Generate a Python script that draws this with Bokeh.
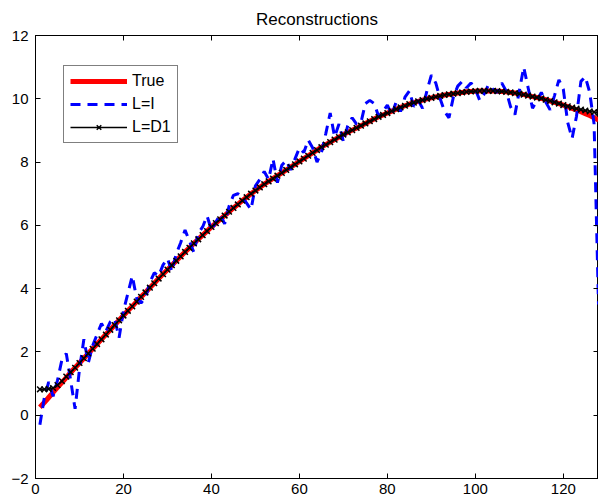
from bokeh.plotting import figure
from bokeh.models import (LinearAxis, FixedTicker, Range1d, Legend, LegendItem)
from bokeh.embed import file_html
from bokeh.resources import INLINE

x_vals = list(range(1, 129))

true_vals = [
    0.25, 0.40, 0.56, 0.72, 0.88, 1.03, 1.19, 1.35, 1.50, 1.65,
    1.80, 1.95, 2.10, 2.25, 2.40, 2.55, 2.70, 2.85, 3.00, 3.15,
    3.30, 3.44, 3.59, 3.74, 3.88, 4.03, 4.17, 4.32, 4.46, 4.60,
    4.74, 4.88, 5.02, 5.16, 5.29, 5.43, 5.56, 5.69, 5.82, 5.95,
    6.07, 6.19, 6.31, 6.43, 6.55, 6.66, 6.78, 6.89, 7.00, 7.10,
    7.20, 7.30, 7.39, 7.48, 7.57, 7.66, 7.75, 7.84, 7.93, 8.02,
    8.11, 8.20, 8.29, 8.38, 8.47, 8.55, 8.63, 8.71, 8.79, 8.87,
    8.94, 9.01, 9.08, 9.15, 9.22, 9.29, 9.36, 9.43, 9.49, 9.55,
    9.61, 9.67, 9.73, 9.78, 9.83, 9.88, 9.92, 9.96, 10.00, 10.03,
    10.06, 10.09, 10.12, 10.14, 10.16, 10.18, 10.20, 10.22, 10.23, 10.24,
    10.25, 10.25, 10.25, 10.25, 10.24, 10.23, 10.22, 10.20, 10.18, 10.16,
    10.13, 10.10, 10.07, 10.04, 10.01, 9.97, 9.93, 9.89, 9.85, 9.80,
    9.75, 9.70, 9.65, 9.59, 9.53, 9.47, 9.40, 9.33,
]

li_vals = [
    -0.30, 0.55, 1.05, 0.60, 1.10, 1.75, 1.95, 1.10, 0.20, 1.45,
    2.40, 1.65, 2.20, 2.55, 2.90, 2.65, 2.95, 3.05, 2.45, 3.30,
    3.85, 4.40, 3.70, 3.55, 3.70, 4.20, 4.50, 4.40, 4.75, 4.95,
    4.55, 5.10, 5.45, 5.85, 5.50, 5.15, 5.75, 5.95, 6.30, 5.85,
    6.10, 6.35, 6.05, 6.60, 6.95, 7.00, 6.90, 6.70, 6.50, 7.25,
    7.45, 7.70, 7.45, 8.10, 7.35, 7.90, 8.05, 7.75, 8.10, 8.45,
    8.30, 8.70, 8.45, 8.00, 8.30, 8.90, 9.55, 8.80, 9.20, 8.65,
    9.15, 9.40, 9.20, 9.25, 9.85, 9.95, 9.85, 9.45, 9.60, 9.80,
    9.50, 9.90, 9.60, 10.05, 10.25, 9.75, 9.95, 9.70, 10.25, 10.75,
    10.50, 10.00, 9.60, 9.40, 10.05, 10.40, 10.55, 10.35, 10.50, 10.30,
    9.95, 10.15, 10.45, 10.30, 10.20, 10.50, 10.25, 9.75, 9.50, 10.25,
    11.00, 10.35, 9.70, 9.95, 10.20, 9.90, 9.65, 10.10, 10.60, 10.30,
    9.25, 8.75, 9.45, 10.55, 10.70, 10.20, 9.20, 3.50,
]

ld1_vals = [
    0.82, 0.82, 0.83, 0.86, 0.95, 1.08, 1.22, 1.36, 1.50, 1.65,
    1.80, 1.95, 2.10, 2.25, 2.40, 2.55, 2.70, 2.85, 3.00, 3.15,
    3.30, 3.44, 3.59, 3.74, 3.88, 4.03, 4.17, 4.32, 4.46, 4.60,
    4.74, 4.88, 5.02, 5.16, 5.29, 5.43, 5.56, 5.69, 5.82, 5.95,
    6.07, 6.19, 6.31, 6.43, 6.55, 6.66, 6.78, 6.89, 7.00, 7.10,
    7.20, 7.30, 7.39, 7.48, 7.57, 7.66, 7.75, 7.84, 7.93, 8.02,
    8.11, 8.20, 8.29, 8.38, 8.47, 8.55, 8.63, 8.71, 8.79, 8.87,
    8.94, 9.01, 9.08, 9.15, 9.22, 9.29, 9.36, 9.43, 9.49, 9.55,
    9.61, 9.67, 9.73, 9.78, 9.83, 9.88, 9.92, 9.96, 10.00, 10.03,
    10.06, 10.09, 10.12, 10.14, 10.16, 10.18, 10.20, 10.22, 10.23, 10.24,
    10.25, 10.25, 10.25, 10.25, 10.24, 10.23, 10.22, 10.20, 10.18, 10.16,
    10.13, 10.10, 10.07, 10.04, 10.01, 9.97, 9.93, 9.89, 9.85, 9.80,
    9.76, 9.72, 9.69, 9.66, 9.63, 9.60, 9.58, 9.56,
]

x_ticks = [0, 20, 40, 60, 80, 100, 120]
y_ticks = [-2, 0, 2, 4, 6, 8, 10, 12]
series_labels = ["True", "L=I", "L=D1"]
title_text = "Reconstructions"

FONT = "Liberation Sans"

p = figure(width=598, height=500, output_backend="svg", toolbar_location=None,
           x_range=Range1d(0, 128), y_range=Range1d(-2, 12),
           x_axis_type=None, y_axis_type=None,
           min_border_left=35, min_border_right=0, min_border_top=33,
           min_border_bottom=22)
p.background_fill_color = "white"
p.border_fill_color = "white"
p.outline_line_color = "black"
p.outline_line_width = 1
p.xgrid.visible = False
p.ygrid.visible = False

p.title.text = title_text
p.title.align = "center"
p.title.text_font = FONT
p.title.text_font_size = "17px"
p.title.text_font_style = "normal"
p.title.text_color = "black"
p.title.offset = 0
p.title.standoff = 14


def style_axis(ax, labels=True):
    ax.axis_line_color = "black"
    ax.major_tick_line_color = "black"
    ax.major_tick_in = 5
    ax.major_tick_out = 0
    ax.minor_tick_line_color = None
    if labels:
        ax.major_label_text_font = FONT
        ax.major_label_text_font_size = "15px"
        ax.major_label_text_color = "black"
    else:
        ax.major_label_text_font_size = "1px"
        ax.major_label_standoff = 0


xb = LinearAxis(ticker=FixedTicker(ticks=x_ticks))
style_axis(xb)
xb.major_label_standoff = 5
p.add_layout(xb, "below")

yl = LinearAxis(ticker=FixedTicker(ticks=y_ticks),
                major_label_overrides={-2: "\u22122"})
style_axis(yl)
yl.major_label_standoff = 7
p.add_layout(yl, "left")

# box ticks on top and right, without labels
xt = LinearAxis(ticker=FixedTicker(ticks=x_ticks),
                major_label_overrides={t: "" for t in x_ticks})
style_axis(xt, labels=False)
p.add_layout(xt, "above")

yr = LinearAxis(ticker=FixedTicker(ticks=y_ticks),
                major_label_overrides={t: "" for t in y_ticks})
style_axis(yr, labels=False)
p.add_layout(yr, "right")

r_true = p.line(x_vals, true_vals, line_color="#ff0000", line_width=5)
r_li = p.line(x_vals, li_vals, line_color="#0000ff", line_width=3,
              line_dash="10 7")
r_ld1 = p.line(x_vals, ld1_vals, line_color="black", line_width=1.3)
r_ld1m = p.scatter(x_vals, ld1_vals, marker="x", size=8, line_color="black",
                   line_width=1.5)

legend = Legend(items=[
    LegendItem(label=series_labels[0], renderers=[r_true]),
    LegendItem(label=series_labels[1], renderers=[r_li]),
    LegendItem(label=series_labels[2], renderers=[r_ld1, r_ld1m]),
])
legend.location = (28, 335)
legend.border_line_color = "black"
legend.border_line_width = 1
legend.background_fill_color = "white"
legend.background_fill_alpha = 1
legend.padding = 6
legend.spacing = 5
legend.label_height = 16
legend.glyph_height = 16
legend.glyph_width = 57
legend.label_standoff = 5
legend.label_text_font = FONT
legend.label_text_font_size = "16px"
legend.label_text_color = "black"
legend.margin = 0
p.add_layout(legend, "center")

open("out.html", "w").write(file_html(p, INLINE))
